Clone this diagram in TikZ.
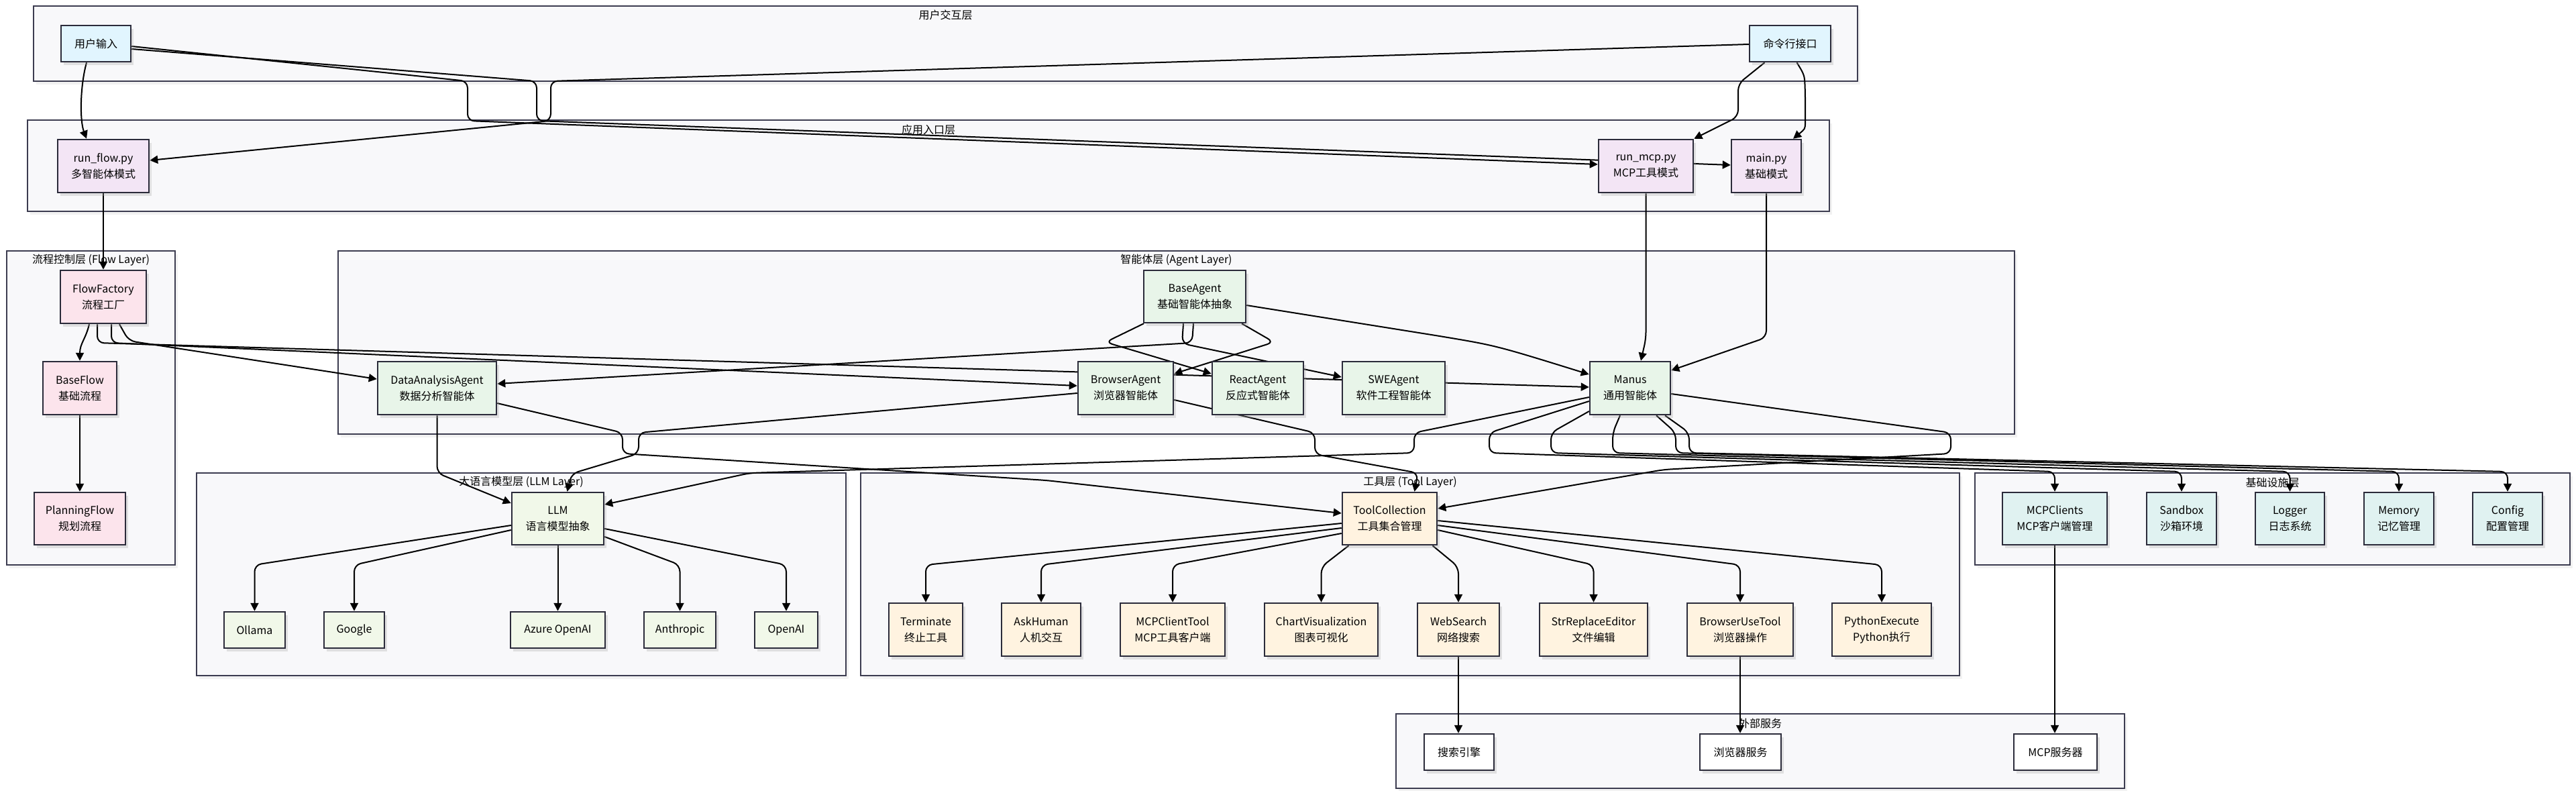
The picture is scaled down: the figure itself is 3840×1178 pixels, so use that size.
\documentclass[tikz,border=0pt]{standalone}
\usepackage{fontspec}
\setmainfont{Noto Sans CJK SC}
\usetikzlibrary{arrows.meta,shadows}

\pgfdeclarelayer{back}
\pgfdeclarelayer{wires}
\pgfsetlayers{back,wires,main}

\definecolor{tierfill}{HTML}{F8F8FA}
\definecolor{tierline}{HTML}{3C3C50}
\definecolor{compline}{HTML}{2B2B3A}
\definecolor{userfill}{HTML}{E1F5FE}
\definecolor{entryfill}{HTML}{F3E5F5}
\definecolor{flowfill}{HTML}{FCE4EC}
\definecolor{agentfill}{HTML}{E8F5E9}
\definecolor{llmfill}{HTML}{F1F8E9}
\definecolor{toolfill}{HTML}{FFF3E0}
\definecolor{infrafill}{HTML}{E0F2F1}

\begin{document}
\begin{tikzpicture}[
        x=1pt, y=-1pt,
        font=\fontsize{16}{24}\selectfont,
        every node/.style={align=center, inner sep=0pt},
        comp/.style={draw=compline, line width=2.5pt, minimum height=79pt,
            drop shadow={shadow xshift=4pt, shadow yshift=-5pt, opacity=.3, fill=black!35}},
        usernode/.style={comp, fill=userfill, minimum height=54pt},
        entrynode/.style={comp, fill=entryfill},
        flownode/.style={comp, fill=flowfill},
        agentnode/.style={comp, fill=agentfill},
        llmnode/.style={comp, fill=llmfill, minimum height=78pt},
        provnode/.style={comp, fill=llmfill, minimum height=54pt},
        toolnode/.style={comp, fill=toolfill},
        infranode/.style={comp, fill=infrafill, minimum height=78pt},
        extnode/.style={comp, fill=white, minimum height=54pt},
        tierbox/.style={draw=tierline, fill=tierfill, line width=2.5pt,
            drop shadow={shadow xshift=4pt, shadow yshift=-5pt, opacity=.15, fill=black!35}},
        tiertitle/.style={},
        wire/.style={draw=black, line width=2pt, rounded corners=10pt,
            -{Triangle[length=12pt,width=12pt]}}
    ]
    \useasboundingbox (0,0) rectangle (3840,1178);

    % Layer frames with their titles
    \begin{pgfonlayer}{back}
    \draw[tierbox] (50,9) rectangle (2769,121);
    \node[tiertitle] (tuser) at (1409.5,22.5) {用户交互层};
    \draw[tierbox] (41,179) rectangle (2727,315);
    \node[tiertitle] (tentry) at (1384,193) {应用入口层};
    \draw[tierbox] (10,374) rectangle (261,842);
    \node[tiertitle] (tflow) at (135.5,388) {流程控制层 (Flow Layer)};
    \draw[tierbox] (504,374) rectangle (3003,647);
    \node[tiertitle] (tagent) at (1753.5,388) {智能体层 (Agent Layer)};
    \draw[tierbox] (293,705) rectangle (1261,1007);
    \node[tiertitle] (tllm) at (777,719) {大语言模型层 (LLM Layer)};
    \draw[tierbox] (1283,705) rectangle (2921,1007);
    \node[tiertitle] (ttool) at (2102,719) {工具层 (Tool Layer)};
    \draw[tierbox] (2944,705) rectangle (3831,842);
    \node[tiertitle] (tinfra) at (3387.5,719) {基础设施层};
    \draw[tierbox] (2081,1064) rectangle (3167,1175);
    \node[tiertitle] (text) at (2624,1078) {外部服务};
    \end{pgfonlayer}

    % User interaction
    \node[usernode, minimum width=104pt] (uin) at (143,65) {用户输入};
    \node[usernode, minimum width=121pt] (cli) at (2668.5,65) {命令行接口};

    % Entry points
    \node[entrynode, minimum width=136pt] (rflow) at (154,247.5) {run\_flow.py\\多智能体模式};
    \node[entrynode, minimum width=141pt] (rmcp) at (2453.5,247.5) {run\_mcp.py\\MCP工具模式};
    \node[entrynode, minimum width=104pt] (mainpy) at (2633,247.5) {main.py\\基础模式};

    % Flow layer
    \node[flownode, minimum width=128pt] (ffac) at (154,442.5) {FlowFactory\\流程工厂};
    \node[flownode, minimum width=110pt] (bflow) at (119,578.5) {BaseFlow\\基础流程};
    \node[flownode, minimum width=136pt, minimum height=78pt] (pflow) at (119,773) {PlanningFlow\\规划流程};

    % Agent layer
    \node[agentnode, minimum width=152pt, minimum height=78pt] (bagent) at (1781,442) {BaseAgent\\基础智能体抽象};
    \node[agentnode, minimum width=177pt] (daagent) at (651.5,578.5) {DataAnalysisAgent\\数据分析智能体};
    \node[agentnode, minimum width=142pt] (bragent) at (1678,578.5) {BrowserAgent\\浏览器智能体};
    \node[agentnode, minimum width=136pt] (reagent) at (1875,578.5) {ReactAgent\\反应式智能体};
    \node[agentnode, minimum width=153pt] (sweagent) at (2077.5,578.5) {SWEAgent\\软件工程智能体};
    \node[agentnode, minimum width=120pt] (manus) at (2430,578.5) {Manus\\通用智能体};

    % LLM layer
    \node[llmnode, minimum width=137pt] (llm) at (831.5,773) {LLM\\语言模型抽象};
    \node[provnode, minimum width=91pt] (ollama) at (379.5,939) {Ollama};
    \node[provnode, minimum width=90pt] (google) at (528,939) {Google};
    \node[provnode, minimum width=141pt] (azure) at (831.5,939) {Azure OpenAI};
    \node[provnode, minimum width=107pt] (anthropic) at (1013.5,939) {Anthropic};
    \node[provnode, minimum width=94pt] (openai) at (1172,939) {OpenAI};

    % Tool layer
    \node[toolnode, minimum width=141pt, minimum height=78pt] (tcoll) at (2071.5,773) {ToolCollection\\工具集合管理};
    \node[toolnode, minimum width=110pt] (terminate) at (1380,938.5) {Terminate\\终止工具};
    \node[toolnode, minimum width=118pt] (askhuman) at (1552,938.5) {AskHuman\\人机交互};
    \node[toolnode, minimum width=156pt] (mcptool) at (1748,938.5) {MCPClientTool\\MCP工具客户端};
    \node[toolnode, minimum width=169pt] (chartvis) at (1969.5,938.5) {ChartVisualization\\图表可视化};
    \node[toolnode, minimum width=122pt] (websearch) at (2174,938.5) {WebSearch\\网络搜索};
    \node[toolnode, minimum width=161pt] (strrep) at (2375.5,938.5) {StrReplaceEditor\\文件编辑};
    \node[toolnode, minimum width=158pt] (bustool) at (2594,938.5) {BrowserUseTool\\浏览器操作};
    \node[toolnode, minimum width=148pt] (pyexec) at (2805,938.5) {PythonExecute\\Python执行};

    % Infrastructure
    \node[infranode, minimum width=156pt] (mcpcl) at (3063,773) {MCPClients\\MCP客户端管理};
    \node[infranode, minimum width=104pt] (sandbox) at (3252,773) {Sandbox\\沙箱环境};
    \node[infranode, minimum width=103pt] (logger) at (3413.5,773) {Logger\\日志系统};
    \node[infranode, minimum width=104pt] (memory) at (3576,773) {Memory\\记忆管理};
    \node[infranode, minimum width=104pt] (config) at (3738,773) {Config\\配置管理};

    % External services
    \node[extnode, minimum width=104pt] (search) at (2175,1121) {搜索引擎};
    \node[extnode, minimum width=121pt] (browsvc) at (2594.5,1121) {浏览器服务};
    \node[extnode, minimum width=124pt] (mcpsrv) at (3064,1121) {MCP服务器};

    \begin{pgfonlayer}{wires}
    % User -> entry points
    \draw[wire] ([xshift=-14pt]uin.south) .. controls (119,130) and (119,180) .. ([xshift=-25pt]rflow.north);
    \draw[wire] (uin.east |- 0,69) -- (697,121) -- (697,180) -- (rmcp.west |- 0,245);
    \draw[wire] (uin.east |- 0,73) -- (800,121) -- (800,180) -- (mainpy.west |- 0,246);
    \draw[wire] (cli.west |- 0,66) -- (821,121) -- (821,180) -- (rflow.east |- 0,239);
    \draw[wire] ([xshift=-38pt]cli.south) -- (2591,125) -- (2591,174) -- (rmcp.north east);
    \draw[wire] ([xshift=10pt]cli.south) .. controls (2690,112) .. (2691,140) -- (2691,172)
        .. controls (2691,192) .. ([xshift=40pt]mainpy.north);

    % Entry points -> flow / agents
    \draw[wire] (rflow.south) -- (rflow.south |- ffac.north);
    \draw[wire] (rmcp.south) -- (2453.5,505) -- ([xshift=16pt]manus.north);
    \draw[wire] (mainpy.south) -- (2633,503) -- (manus.east |- 0,552);

    % Flow layer
    \draw[wire] ([xshift=-21pt]ffac.south) .. controls (128,505) and (119,512) .. (bflow.north);
    \draw[wire] (bflow.south) -- (bflow.south |- pflow.north);
    \draw[wire] ([xshift=-9pt]ffac.south) -- (145,511) -- (manus.west |- 0,577);
    \draw[wire] ([xshift=12pt]ffac.south) -- (166,511) -- (bragent.west |- 0,575);
    \draw[wire] ([xshift=24pt]ffac.south) -- (192,508) -- (daagent.west |- 0,565);

    % Agent layer
    \draw[wire] (bagent.east |- 0,455) -- (2140,500) .. controls (2230,515) .. (manus.west |- 0,558);
    \draw[wire] ([xshift=70pt]bagent.south) -- (1899,510) -- (bragent.east |- 0,557);
    \draw[wire] ([xshift=-76pt]bagent.south) -- (1648,510) -- (reagent.west |- 0,557);
    \draw[wire] ([xshift=-17pt]bagent.south) -- (1762,512) -- (sweagent.west |- 0,562);
    \draw[wire] ([xshift=-2pt]bagent.south) -- (1777,511) -- (daagent.east |- 0,572);

    % Agents -> LLM and tools
    \draw[wire] (daagent.south) -- (651.5,705) -- (llm.west |- 0,750);
    \draw[wire] (daagent.east |- 0,601) -- (928,645) -- (928,676) -- (1560,716) -- (tcoll.west |- 0,765);
    \draw[wire] (bragent.west |- 0,586) -- (952,645) -- (952,676) -- (852,706) -- ([xshift=14pt]llm.north);
    \draw[wire] (bragent.east |- 0,596) -- (1960,645) -- (1960,677) -- (2114,705) -- ([xshift=37pt]tcoll.north);
    \draw[wire] (manus.west |- 0,592) -- (2108,645) -- (2108,675) -- (1118,705) -- (llm.east |- 0,752);
    \draw[wire] (manus.east |- 0,587) -- (2908,645) -- (2908,676) -- (2480,700) -- (tcoll.east |- 0,758);

    % Manus -> infrastructure
    \draw[wire] (manus.west |- 0,598) -- (2220,645) -- (2220,675) -- (3063,703) -- (mcpcl.north);
    \draw[wire] (manus.west |- 0,613) -- (2312,645) -- (2312,675) -- (3252,703) -- (sandbox.north);
    \draw[wire] ([xshift=-15pt]manus.south) -- (2404,645) -- (2404,675) -- (3413.5,703) -- (logger.north);
    \draw[wire] ([xshift=39pt]manus.south) -- (2498,645) -- (2498,675) -- (3576,703) -- (memory.north);
    \draw[wire] ([xshift=52pt]manus.south) -- (2518,645) -- (2518,675) -- (3738,703) -- (config.north);

    % LLM providers
    \draw[wire] (llm.west |- 0,783) -- (379.5,842) -- (ollama.north);
    \draw[wire] (llm.west |- 0,790) -- (528,842) -- (google.north);
    \draw[wire] (llm.south) -- (llm.south |- azure.north);
    \draw[wire] (llm.east |- 0,800) -- (1013.5,842) -- (anthropic.north);
    \draw[wire] (llm.east |- 0,788) -- (1172,842) -- (openai.north);

    % Tools
    \draw[wire] (tcoll.west |- 0,780) -- (1380,842) -- (terminate.north);
    \draw[wire] (tcoll.west |- 0,787) -- (1552,842) -- (askhuman.north);
    \draw[wire] (tcoll.west |- 0,795) -- (1748,842) -- (mcptool.north);
    \draw[wire] ([xshift=-61pt]tcoll.south) -- (1969.5,845) -- (chartvis.north);
    \draw[wire] ([xshift=64pt]tcoll.south) -- (2174,845) -- (websearch.north);
    \draw[wire] (tcoll.east |- 0,790) -- (2375.5,842) -- (strrep.north);
    \draw[wire] (tcoll.east |- 0,783) -- (2594,842) -- (bustool.north);
    \draw[wire] (tcoll.east |- 0,776) -- (2805,842) -- (pyexec.north);

    % External services
    \draw[wire] (websearch.south) -- (websearch.south |- search.north);
    \draw[wire] (bustool.south) -- (bustool.south |- browsvc.north);
    \draw[wire] (mcpcl.south) -- (mcpcl.south |- mcpsrv.north);
    \end{pgfonlayer}

\end{tikzpicture}
\end{document}
